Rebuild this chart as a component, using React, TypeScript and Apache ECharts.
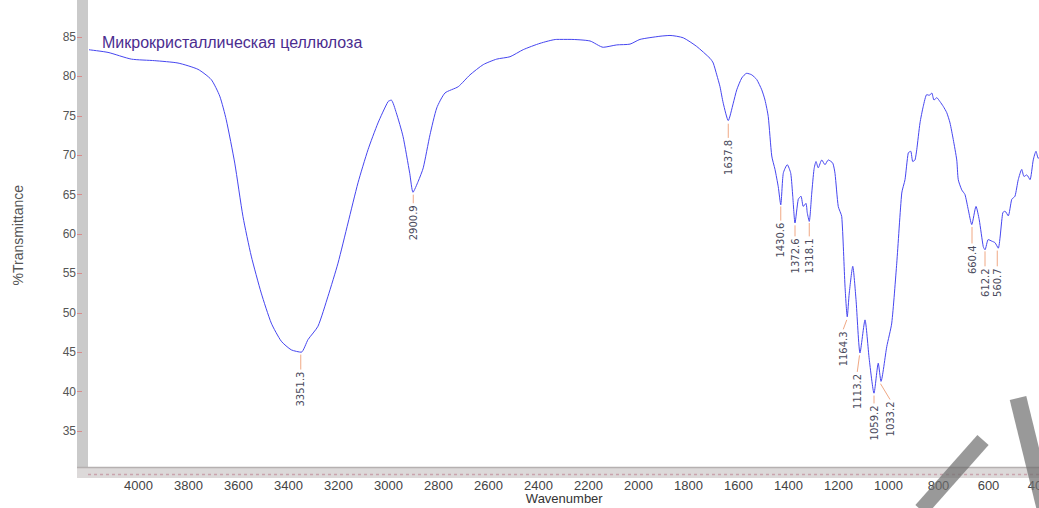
import React, { useEffect, useRef } from "react";
import * as echarts from "echarts";

const wavenumbers = [
  4202, 4122, 4029, 3935, 3842, 3762, 3709, 3675, 3649, 3615, 3582, 3549, 3509, 3469, 3429, 3389, 3349, 3322,
  3282, 3242, 3202, 3162, 3122, 3082, 3042, 3002, 2989, 2969, 2942, 2915, 2902, 2881, 2861, 2834, 2807, 2774,
  2721, 2674, 2621, 2567, 2514, 2461, 2394, 2327, 2274, 2194, 2141, 2087, 2034, 1994, 1914, 1874, 1821, 1767,
  1714, 1701, 1687, 1674, 1661, 1641, 1621, 1607, 1587, 1567, 1547, 1527, 1507, 1494, 1481, 1467, 1454, 1441,
  1431, 1421, 1405, 1391, 1383, 1374, 1361, 1350, 1341, 1330, 1325, 1317, 1307, 1298, 1290, 1281, 1267, 1254,
  1241, 1223, 1214, 1201, 1187, 1174, 1165, 1157, 1143, 1130, 1114, 1094, 1077, 1058, 1041, 1030, 1007, 987,
  967, 947, 934, 921, 911, 903, 894, 887, 874, 861, 847, 837, 827, 818, 807, 794, 781, 767, 754, 741, 727, 721,
  707, 694, 681, 667, 650, 637, 621, 614, 601, 587, 574, 561, 543, 534, 521, 507, 494, 481, 467, 458, 447, 434,
  421, 410, 401, 395,
];

const transmittance = [
  83.4, 83.05, 82.2, 82.0, 81.7, 80.9, 79.6, 77.5, 74.5, 69.0, 62.2, 57.2, 52.5, 48.7, 46.4, 45.3, 45.0, 46.6,
  48.3, 52.1, 56.3, 61.4, 66.5, 70.7, 74.1, 76.8, 77.0, 75.4, 72.4, 67.7, 65.3, 66.7, 68.4, 72.6, 76.0, 77.9,
  78.7, 80.2, 81.5, 82.2, 82.5, 83.4, 84.2, 84.7, 84.7, 84.5, 83.7, 84.0, 84.1, 84.7, 85.1, 85.2, 84.9, 83.8,
  82.3, 81.7, 80.2, 78.7, 76.6, 74.4, 76.6, 78.3, 79.8, 80.4, 80.2, 79.6, 78.3, 77.0, 74.9, 69.9, 68.2, 66.0,
  63.7, 67.7, 68.8, 67.7, 64.8, 61.4, 64.4, 64.8, 63.5, 63.9, 62.7, 61.6, 65.2, 68.2, 69.2, 68.4, 69.4, 68.8,
  69.4, 69.0, 67.7, 63.5, 62.2, 53.4, 49.5, 52.5, 55.9, 51.7, 44.9, 49.1, 44.1, 39.8, 43.6, 41.3, 45.7, 48.7,
  56.3, 65.2, 66.9, 70.3, 70.5, 69.2, 69.4, 70.7, 74.1, 76.2, 77.7, 77.6, 77.9, 77.0, 77.3, 76.8, 76.2, 75.4,
  74.1, 72.0, 69.4, 66.9, 65.6, 65.0, 63.1, 61.2, 63.5, 61.8, 58.4, 58.0, 59.3, 59.1, 58.9, 58.2, 62.7, 62.9,
  62.3, 64.4, 64.8, 66.9, 68.2, 67.3, 67.5, 66.9, 69.4, 70.5, 69.6, 69.8,
];

const peakNames = [
  "3351.3", "2900.9", "1637.8", "1430.6", "1372.6", "1318.1", "1164.3", "1113.2", "1059.2", "1033.2",
  "660.4", "612.2", "560.7",
];
const peakTopWn = [3351, 2901, 1641, 1431, 1374, 1317, 1167, 1116, 1058, 1032, 666, 614, 565];
const peakTopT = [44.7, 65.0, 74.0, 63.5, 61.1, 61.4, 49.1, 44.6, 39.5, 41.0, 60.9, 57.8, 57.9];
const peakEndWn = [3351, 2901, 1641, 1431, 1374, 1317, 1181, 1125, 1058, 994, 666, 614, 565];
const peakEndT = [42.8, 63.9, 72.2, 61.7, 59.7, 59.7, 47.9, 42.5, 38.5, 39.0, 58.8, 55.9, 55.9];

const yTicks = [35, 40, 45, 50, 55, 60, 65, 70, 75, 80, 85];
const xTicks = [400, 600, 800, 1000, 1200, 1400, 1600, 1800, 2000, 2200, 2400, 2600, 2800, 3000, 3200, 3400, 3600, 3800, 4000];

const titleText = "Микрокристаллическая целлюлоза";

export default function App() {
  const ref = useRef<HTMLDivElement>(null);
  useEffect(() => {
    if (!ref.current) return;
    const chart = echarts.init(ref.current, null, { renderer: "svg" });
    const lineData = wavenumbers.map((w, i) => [w, transmittance[i]]);
    const annData = peakNames.map((_, i) => [peakTopWn[i], peakTopT[i], peakEndWn[i], peakEndT[i]]);
    chart.setOption({
      animation: false,
      backgroundColor: "#ffffff",
      title: {
        text: titleText,
        left: 102,
        top: 34,
        padding: 0,
        textStyle: { color: "#4b2d8f", fontSize: 16, fontWeight: "normal", fontFamily: "Liberation Sans" },
      },
      grid: { left: 90, top: 0, width: 948.5, height: 470.4, containLabel: false, outerBoundsMode: "none" },
      xAxis: {
        type: "value",
        inverse: true,
        min: 400,
        max: 4194,
        interval: 200,
        name: "Wavenumber",
        nameLocation: "middle",
        nameGap: 22,
        nameMoveOverlap: false,
        nameTextStyle: { color: "#333", fontSize: 13, fontFamily: "Liberation Sans" },
        axisLine: { show: false },
        axisTick: { show: false },
        splitLine: { show: false },
        axisLabel: {
          customValues: xTicks,
          formatter: (v: number) => String(v),
          color: "#444",
          fontSize: 13,
          fontFamily: "Liberation Sans",
          margin: 9,
          hideOverlap: false,
        },
      },
      yAxis: {
        type: "value",
        min: 30,
        max: 89.7,
        interval: 5,
        offset: 8,
        name: "%Transmittance",
        nameLocation: "middle",
        nameGap: 57,
        nameMoveOverlap: false,
        nameTextStyle: { color: "#555", fontSize: 14, fontFamily: "Liberation Sans" },
        axisLine: { show: false },
        axisTick: { show: true, customValues: yTicks, length: 5, lineStyle: { color: "#d98a8a", width: 1 } },
        splitLine: { show: false },
        axisLabel: {
          customValues: yTicks,
          formatter: (v: number) => String(v),
          color: "#555",
          fontSize: 12,
          fontFamily: "Liberation Sans",
          margin: 6,
        },
      },
      graphic: [
        { type: "rect", z: -1, shape: { x: 77, y: 0, width: 11, height: 478 }, style: { fill: "#cacaca" } },
        { type: "rect", z: -1, shape: { x: 77, y: 467, width: 962, height: 11 }, style: { fill: "#dcd9d9" } },
        { type: "line", z: -1, shape: { x1: 77, y1: 467.5, x2: 1039, y2: 467.5 }, style: { stroke: "#b5b0b0", lineWidth: 1.5 } },
        { type: "line", z: -1, shape: { x1: 88, y1: 474.5, x2: 1039, y2: 474.5 }, style: { stroke: "#c9a3ad", lineWidth: 1.5, lineDash: [3, 3] } },
        { type: "line", z: 100, shape: { x1: 921, y1: 510, x2: 983, y2: 440 }, style: { stroke: "rgba(110,110,110,0.7)", lineWidth: 15 } },
        { type: "line", z: 100, shape: { x1: 1018, y1: 398, x2: 1045, y2: 508 }, style: { stroke: "rgba(110,110,110,0.7)", lineWidth: 17 } },
      ],
      series: [
        {
          type: "line",
          data: lineData,
          showSymbol: false,
          symbol: "none",
          smooth: 0.2,
          lineStyle: { color: "#4646f0", width: 1 },
          z: 3,
        },
        {
          type: "custom",
          data: annData,
          clip: false,
          z: 4,
          renderItem: (params: any, api: any) => {
            const p0 = api.coord([api.value(0), api.value(1)]);
            const p1 = api.coord([api.value(2), api.value(3)]);
            return {
              type: "group",
              children: [
                {
                  type: "line",
                  shape: { x1: p0[0], y1: p0[1], x2: p1[0], y2: p1[1] },
                  style: { stroke: "#f0a884", lineWidth: 1 },
                },
                {
                  type: "text",
                  x: p1[0],
                  y: p1[1] + 2,
                  rotation: Math.PI / 2,
                  style: {
                    text: peakNames[params.dataIndex],
                    fill: "#4a4a5c",
                    font: '10px "DejaVu Sans"',
                    align: "right",
                    verticalAlign: "middle",
                  },
                },
              ],
            };
          },
        },
      ],
    });
    return () => chart.dispose();
  }, []);
  return <div ref={ref} style={{ position: "absolute", left: 0, top: 0, width: 1039, height: 508 }} />;
}
